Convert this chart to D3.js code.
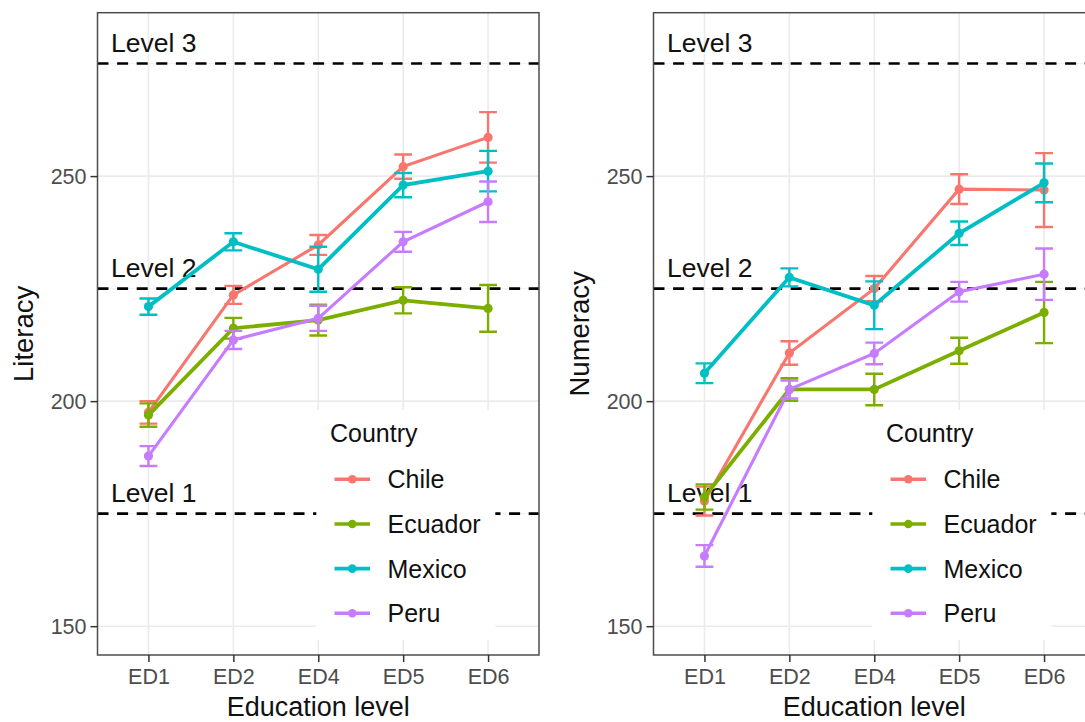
<!DOCTYPE html>
<html>
<head>
<meta charset="utf-8">
<script src="https://cdn.jsdelivr.net/npm/d3@7"></script>
<style>
  body { margin: 0; background: #fff; }
  text { font-family: "Liberation Sans", Arial, sans-serif; }
</style>
</head>
<body>
<div id="chart"></div>
<script>
var eduLevels = ["ED1", "ED2", "ED4", "ED5", "ED6"];
var countries = ["Chile", "Ecuador", "Mexico", "Peru"];
var colors = ["#F8766D", "#7CAE00", "#00BFC4", "#C77CFF"];
var yTicks = [150, 200, 250];
var yMinor = [175, 225, 275];
var proLevels = [175, 225, 275];
var proLabels = ["Level 1", "Level 2", "Level 3"];

// literacy means and error half-widths, one row per country
var litMean = [
  [197.5, 223.6, 234.7, 252.1, 258.6],
  [196.9, 216.2, 218.0, 222.4, 220.6],
  [221.0, 235.4, 229.3, 248.0, 251.1],
  [187.8, 213.6, 218.4, 235.4, 244.3]
];
var litErr = [
  [2.5, 2.0, 2.2, 2.7, 5.6],
  [2.6, 2.3, 3.4, 2.9, 5.2],
  [1.8, 1.9, 5.0, 2.7, 4.5],
  [2.2, 2.0, 2.8, 2.2, 4.5]
];
var numMean = [
  [177.8, 210.7, 225.0, 247.1, 246.9],
  [178.7, 202.6, 202.6, 211.2, 219.7],
  [206.2, 227.5, 221.3, 237.3, 248.5],
  [165.6, 202.6, 210.6, 224.3, 228.2]
];
var numErr = [
  [3.2, 2.6, 2.8, 3.3, 8.2],
  [2.8, 2.5, 3.5, 2.9, 6.8],
  [2.2, 2.0, 5.3, 2.6, 4.3],
  [2.4, 2.0, 2.4, 2.2, 5.7]
];

var W = 1085, H = 722;
var panelW = 441.5, panelTop = 12.7, panelBottom = 655;

var svg = d3.select("#chart").append("svg")
  .attr("width", W).attr("height", H);

var y = d3.scaleLinear().domain([143.6, 286.3]).range([panelBottom, panelTop]);

function drawPanel(x0, title, means, errs) {
  var x = d3.scalePoint().domain(eduLevels).range([x0, x0 + panelW]).padding(0.6);
  var g = svg.append("g");

  // grid
  g.selectAll(".minor").data(yMinor).enter().append("line")
    .attr("x1", x0).attr("x2", x0 + panelW)
    .attr("y1", d => y(d)).attr("y2", d => y(d))
    .attr("stroke", "#f0f0f0").attr("stroke-width", 0.9);
  g.selectAll(".gy").data(yTicks).enter().append("line")
    .attr("x1", x0).attr("x2", x0 + panelW)
    .attr("y1", d => y(d)).attr("y2", d => y(d))
    .attr("stroke", "#ebebeb").attr("stroke-width", 1.6);
  g.selectAll(".gx").data(eduLevels).enter().append("line")
    .attr("x1", d => x(d)).attr("x2", d => x(d))
    .attr("y1", panelTop).attr("y2", panelBottom)
    .attr("stroke", "#ebebeb").attr("stroke-width", 1.6);

  // proficiency levels
  g.selectAll(".lvl").data(proLevels).enter().append("line")
    .attr("x1", x0).attr("x2", x0 + panelW)
    .attr("y1", d => y(d)).attr("y2", d => y(d))
    .attr("stroke", "#000").attr("stroke-width", 2.6)
    .attr("stroke-dasharray", "11,8.6");
  g.selectAll(".lvlt").data(proLevels).enter().append("text")
    .attr("x", x0 + 13.5).attr("y", d => y(d) - 11.2)
    .attr("font-size", "26.5px").attr("fill", "#111")
    .text((d, i) => proLabels[i]);

  // error bars, lines, points
  var capW = x.step() * 0.21;
  countries.forEach(function (c, ci) {
    var pts = eduLevels.map((e, i) => ({e: e, m: means[ci][i], s: errs[ci][i]}));
    var sg = g.append("g");
    sg.selectAll(".eb").data(pts).enter().append("path")
      .attr("d", d => "M" + (x(d.e) - capW / 2) + "," + y(d.m + d.s) + "H" + (x(d.e) + capW / 2) +
        "M" + x(d.e) + "," + y(d.m + d.s) + "V" + y(d.m - d.s) +
        "M" + (x(d.e) - capW / 2) + "," + y(d.m - d.s) + "H" + (x(d.e) + capW / 2))
      .attr("fill", "none").attr("stroke", colors[ci]).attr("stroke-width", 2.4);
    sg.append("path").datum(pts)
      .attr("d", d3.line().x(d => x(d.e)).y(d => y(d.m)))
      .attr("fill", "none").attr("stroke", colors[ci])
      .attr("stroke-width", (ci == 1 || ci == 2) ? 3.8 : 3.1);
    sg.selectAll("circle").data(pts).enter().append("circle")
      .attr("cx", d => x(d.e)).attr("cy", d => y(d.m)).attr("r", 4.6)
      .attr("fill", colors[ci]);
  });

  // legend
  var lx = x0 + 218.8;
  g.append("rect").attr("x", lx).attr("y", 410).attr("width", 179).attr("height", 230)
    .attr("fill", "#fff");
  g.append("text").attr("x", x0 + 232.5).attr("y", 441.7)
    .attr("font-size", "25px").attr("fill", "#111").text("Country");
  var keyY = d3.scalePoint().domain(countries).range([479.3, 613.3]);
  var items = g.selectAll(".leg").data(countries).enter().append("g");
  items.append("line")
    .attr("x1", x0 + 237).attr("x2", x0 + 272.5)
    .attr("y1", d => keyY(d)).attr("y2", d => keyY(d))
    .attr("stroke", (d, i) => colors[i]).attr("stroke-width", 3.6);
  items.append("circle")
    .attr("cx", x0 + 254.8).attr("cy", d => keyY(d)).attr("r", 4.3)
    .attr("fill", (d, i) => colors[i]);
  items.append("text")
    .attr("x", x0 + 290).attr("y", d => keyY(d) + 9)
    .attr("font-size", "25px").attr("fill", "#111").text(d => d);

  // border
  g.append("rect").attr("x", x0).attr("y", panelTop)
    .attr("width", panelW).attr("height", panelBottom - panelTop)
    .attr("fill", "none").attr("stroke", "#4d4d4d").attr("stroke-width", 1.5);

  // axes
  var ax = g.append("g").attr("transform", "translate(0," + panelBottom + ")")
    .call(d3.axisBottom(x).tickSize(7).tickPadding(7));
  var ay = g.append("g").attr("transform", "translate(" + x0 + ",0)")
    .call(d3.axisLeft(y).tickValues(yTicks).tickSize(7).tickPadding(4));
  [ax, ay].forEach(function (a) {
    a.select(".domain").remove();
    a.selectAll(".tick line").attr("stroke", "#333").attr("stroke-width", 1.5);
    a.selectAll(".tick text").attr("font-size", "21.5px").attr("fill", "#4d4d4d")
      .attr("font-family", "Liberation Sans, Arial, sans-serif");
  });
  ay.selectAll(".tick text").attr("dy", "0.36em");
  ax.selectAll(".tick text").attr("dy", "0.72em");

  g.append("text").attr("x", x0 + panelW / 2).attr("y", 715.5)
    .attr("text-anchor", "middle").attr("font-size", "27px").attr("fill", "#111")
    .text("Education level");
  g.append("text")
    .attr("transform", "translate(" + (x0 - 64.5) + "," + ((panelTop + panelBottom) / 2) + ") rotate(-90)")
    .attr("text-anchor", "middle").attr("font-size", "27.5px").attr("fill", "#111")
    .text(title);
}

drawPanel(97.5, "Literacy", litMean, litErr);
drawPanel(653.5, "Numeracy", numMean, numErr);
</script>
</body>
</html>
